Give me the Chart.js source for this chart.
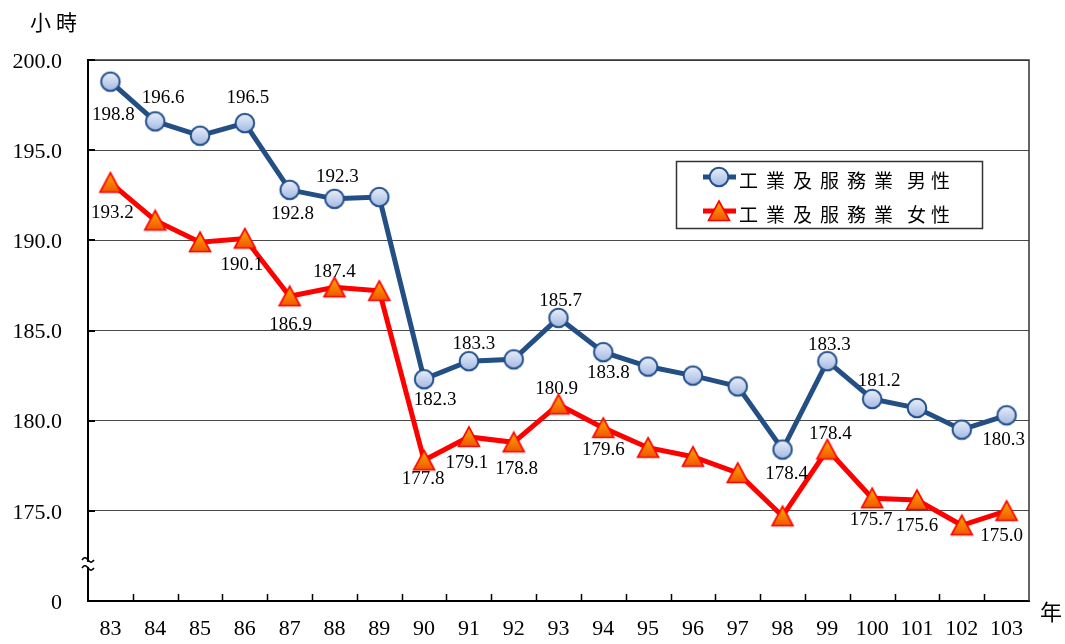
<!DOCTYPE html>
<html>
<head>
<meta charset="utf-8">
<script src="https://cdn.jsdelivr.net/npm/chart.js@4.4.1/dist/chart.umd.min.js"></script>
<style>
html,body{margin:0;padding:0;background:#fff;}
#wrap{width:1065px;height:644px;}
</style>
</head>
<body>
<div id="wrap"><canvas id="c" width="1065" height="644"></canvas></div>
<script>
// ---- data ----
const years = ['83','84','85','86','87','88','89','90','91','92','93','94','95','96','97','98','99','100','101','102','103'];
const maleHours = [198.8,196.6,195.8,196.5,192.8,192.3,192.4,182.3,183.3,183.4,185.7,183.8,183.0,182.5,181.9,178.4,183.3,181.2,180.7,179.5,180.3];
const femaleHours = [193.2,191.1,189.9,190.1,186.9,187.4,187.2,177.8,179.1,178.8,180.9,179.6,178.5,178.0,177.1,174.7,178.4,175.7,175.6,174.2,175.0];
const seriesNames = ['工業及服務業 男性','工業及服務業 女性'];
const yUnit = '小時';
const xUnit = '年';
const yBreakLabel = '0';

// label placement (offset from the point, px); null = no label
const maleLabelOffsets = [[3,33],[8,-23],null,[3,-25],[3,24],[3,-22],null,[11,21],[5,-17],null,[2,-17],[5,21],null,null,null,[4,24],[2,-16],[7,-18],null,null,[-3,25]];
const femaleLabelOffsets = [[2,30],null,null,[-3,26],[1,29],[0,-15],null,[-1,19],[-2,26],[3,27],[-2,-15],[0,22],null,null,null,null,[3,-16],[-1,22],[0,26],null,[-5,25]];
const labelOffsets = [maleLabelOffsets, femaleLabelOffsets];

const SERIF = '"Liberation Serif","Times New Roman",serif';
const CJK = '"Noto Sans CJK TC","Noto Sans CJK SC",sans-serif';

function makeCircle(){
  const c=document.createElement('canvas'); c.width=24; c.height=24;
  const g=c.getContext('2d');
  const gr=g.createLinearGradient(0,3,0,21);
  gr.addColorStop(0,'#e8eefa'); gr.addColorStop(1,'#a4b9e3');
  g.beginPath(); g.arc(12,12,9.3,0,Math.PI*2);
  g.fillStyle=gr; g.fill();
  g.lineWidth=2; g.strokeStyle='#23508a'; g.stroke();
  return c;
}
function makeTriangle(){
  const c=document.createElement('canvas'); c.width=26; c.height=24;
  const g=c.getContext('2d');
  const gr=g.createLinearGradient(0,2,0,22);
  gr.addColorStop(0,'#ffae00'); gr.addColorStop(1,'#f05200');
  g.beginPath(); g.moveTo(13,2); g.lineTo(23.5,21.5); g.lineTo(2.5,21.5); g.closePath();
  g.fillStyle=gr; g.fill();
  g.lineWidth=1.6; g.strokeStyle='#ff0000'; g.stroke();
  return c;
}
const circleImg = makeCircle();
const triImg = makeTriangle();

const decor = {
  id:'decor',
  beforeDatasetsDraw(chart){
    const {ctx, chartArea:a, scales:{x,y}} = chart;
    ctx.save();
    // top & right frame
    ctx.strokeStyle='#333'; ctx.lineWidth=1.5;
    ctx.beginPath(); ctx.moveTo(a.left,a.top); ctx.lineTo(a.right,a.top); ctx.lineTo(a.right,a.bottom); ctx.stroke();
    // inner tick marks on x axis (category boundaries)
    ctx.strokeStyle='#000'; ctx.lineWidth=1.5;
    ctx.beginPath();
    for(let i=1;i<years.length;i++){
      const px=Math.round((x.getPixelForValue(i-1)+x.getPixelForValue(i))/2)+0.5;
      ctx.moveTo(px,a.bottom); ctx.lineTo(px,a.bottom-7);
    }
    ctx.stroke();
    // inner tick marks on y axis
    ctx.lineWidth=2;
    ctx.beginPath();
    y.ticks.forEach(t=>{
      const py=Math.round(y.getPixelForValue(t.value));
      ctx.moveTo(a.left,py); ctx.lineTo(a.left+7,py);
    });
    ctx.stroke();
    // axis break symbol
    const bx=a.left, by=y.getPixelForValue(172.5)+8;
    ctx.fillStyle='#fff'; ctx.fillRect(bx-3,by-2,6,5);
    ctx.strokeStyle='#000'; ctx.lineWidth=1.6;
    [by-4, by+4].forEach(yy=>{
      ctx.beginPath();
      for(let k=0;k<=20;k++){
        const xx=bx-6+k*0.6;
        const yv=yy-2.2*Math.sin(k/20*2*Math.PI);
        if(k===0) ctx.moveTo(xx,yv); else ctx.lineTo(xx,yv);
      }
      ctx.stroke();
    });
    // unit labels
    ctx.fillStyle='#000';
    ctx.font='21px '+CJK; ctx.textBaseline='middle'; ctx.textAlign='left';
    ctx.letterSpacing='5px';
    ctx.fillText(yUnit,30,22);
    ctx.letterSpacing='0px';
    ctx.font='22px '+CJK;
    ctx.fillText(xUnit,1040,612);
    ctx.restore();
  }
};

const valueLabels = {
  id:'valueLabels',
  afterDatasetsDraw(chart){
    const ctx=chart.ctx;
    ctx.save();
    ctx.font='19px '+SERIF;
    ctx.fillStyle='#000'; ctx.textAlign='center'; ctx.textBaseline='middle';
    chart.data.datasets.forEach((ds,di)=>{
      const meta=chart.getDatasetMeta(di);
      meta.data.forEach((pt,i)=>{
        const o=labelOffsets[di][i];
        if(!o) return;
        ctx.fillText(ds.data[i].toFixed(1), pt.x+o[0], pt.y+o[1]);
      });
    });
    ctx.restore();
  }
};

const boxLegend = {
  id:'boxLegend',
  afterDraw(chart){
    const ctx=chart.ctx;
    ctx.save();
    ctx.fillStyle='#fff'; ctx.fillRect(676,161,307,68);
    ctx.strokeStyle='#333'; ctx.lineWidth=1.5; ctx.strokeRect(676.5,161.5,306,67);
    const rows=[177,211];
    chart.data.datasets.forEach((ds,i)=>{
      const yy=rows[i];
      ctx.strokeStyle=ds.borderColor; ctx.lineWidth=5;
      ctx.beginPath(); ctx.moveTo(703,yy); ctx.lineTo(736,yy); ctx.stroke();
      const img=ds.pointStyle;
      ctx.drawImage(img, 719-img.width/2, yy-img.height/2);
      const parts=ds.label.split(' ');
      ctx.fillStyle='#000'; ctx.font='19px '+CJK; ctx.textBaseline='middle'; ctx.textAlign='left';
      ctx.letterSpacing='8px';
      ctx.fillText(parts[0],739,yy+4);
      ctx.letterSpacing='5px';
      ctx.fillText(parts[1],907,yy+4);
    });
    ctx.restore();
  }
};

new Chart(document.getElementById('c'), {
  type:'line',
  data:{
    labels: years,
    datasets:[
      {label: seriesNames[0], data: maleHours, borderColor:'#234f85', borderWidth:5, pointStyle: circleImg, pointRadius:10, pointHoverRadius:10, tension:0, fill:false},
      {label: seriesNames[1], data: femaleHours, borderColor:'#ff0000', borderWidth:5, pointStyle: triImg, pointRadius:10, pointHoverRadius:10, tension:0, fill:false}
    ]
  },
  options:{
    responsive:false, animation:false, devicePixelRatio:1,
    layout:{padding:{top:60,right:36,bottom:0,left:0}},
    plugins:{legend:{display:false}, tooltip:{enabled:false}},
    scales:{
      x:{
        offset:true,
        grid:{display:false, drawTicks:false},
        border:{display:true, color:'#000', width:2},
        ticks:{padding:15, color:'#000', font:{family:SERIF, size:22}, maxRotation:0, autoSkip:false},
        afterFit:s=>{s.height=43;}
      },
      y:{
        min:170, max:200,
        ticks:{stepSize:5, padding:26, labelOffset:2, color:'#000', font:{family:SERIF, size:22},
          callback:v=> v===170 ? yBreakLabel : Number(v).toFixed(1)},
        grid:{color:c=> (c.tick && c.tick.value===170) ? 'rgba(0,0,0,0)' : '#4a4a4a', lineWidth:1, drawTicks:false},
        border:{display:true, color:'#000', width:2},
        afterFit:s=>{s.width=88;}
      }
    }
  },
  plugins:[decor, valueLabels, boxLegend]
});
</script>
</body>
</html>
